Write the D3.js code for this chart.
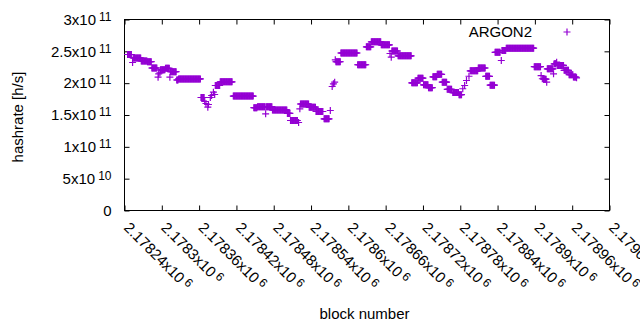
<!DOCTYPE html>
<html>
<head>
<meta charset="utf-8">
<script src="https://cdn.jsdelivr.net/npm/d3@7"></script>
<style>
  body { margin: 0; background: #fff; }
  svg { display: block; font-family: "Liberation Sans", Arial, sans-serif; }
</style>
</head>
<body>
<div id="chart"></div>
<script>
// hashrate per block, in units of 1e9 h/s
// runs of blocks with the same value (first block, last block, value)
const runFrom = [2178245, 2178254, 2178267, 2178277, 2178284, 2178298, 2178306, 2178314, 2178324, 2178327,
                 2178363, 2178386, 2178394, 2178415, 2178448, 2178454, 2178468, 2178478, 2178502, 2178507,
                 2178523, 2178537, 2178548, 2178561, 2178580, 2178588, 2178615, 2178629, 2178637, 2178653,
                 2178670, 2178680, 2178702, 2178712, 2178721, 2178729, 2178736, 2178743, 2178751, 2178759,
                 2178768, 2178778, 2178796, 2178809, 2178821, 2178828, 2178836, 2178847, 2178854, 2178899,
                 2178914, 2178920, 2178931, 2178936, 2178947, 2178955, 2178962];
const runTo   = [2178251, 2178266, 2178276, 2178283, 2178292, 2178305, 2178312, 2178323, 2178326, 2178362,
                 2178368, 2178393, 2178413, 2178447, 2178453, 2178466, 2178477, 2178501, 2178506, 2178518,
                 2178536, 2178547, 2178559, 2178569, 2178587, 2178614, 2178628, 2178636, 2178652, 2178666,
                 2178679, 2178701, 2178711, 2178720, 2178728, 2178735, 2178742, 2178750, 2178758, 2178766,
                 2178777, 2178782, 2178808, 2178820, 2178827, 2178835, 2178844, 2178853, 2178898, 2178909,
                 2178918, 2178929, 2178934, 2178946, 2178954, 2178961, 2178966];
const runHash = [245.0, 239.5, 234.8, 233.7, 223.8, 221.0, 223.4, 218.0, 205.0, 206.7,
                 177.5, 196.3, 202.1, 179.8, 161.5, 163.0, 163.0, 157.9, 152.4, 141.4,
                 167.3, 162.3, 155.5, 144.0, 233.6, 247.4, 228.9, 257.1, 265.0, 260.3,
                 250.5, 243.0, 200.6, 207.8, 197.4, 192.9, 210.0, 213.9, 201.5, 190.4,
                 185.3, 181.9, 219.4, 223.8, 210.8, 196.8, 248.5, 251.3, 254.9, 225.9,
                 206.2, 222.6, 230.4, 227.8, 220.2, 213.3, 209.7];

// single blocks in between
const oneBlock = [2178253, 2178294, 2178295, 2178297, 2178313, 2178369, 2178371, 2178374, 2178375, 2178378,
                  2178380, 2178383, 2178385, 2178467, 2178520, 2178522, 2178571, 2178574, 2178576, 2178578,
                  2178579, 2178667, 2178669, 2178784, 2178787, 2178790, 2178794, 2178846, 2178910, 2178912,
                  2178919, 2178930, 2178935, 2178967];
const oneHash  = [232.5, 209.4, 214.7, 216.3, 209.4, 171.2, 168.1, 162.3, 166.5, 177.5,
                  180.6, 185.8, 182.2, 151.9, 138.2, 159.7, 157.1, 194.8, 199.0, 201.5,
                  236.7, 246.6, 240.8, 191.2, 196.3, 204.2, 210.9, 235.6, 212.0, 206.9,
                  201.5, 214.7, 232.9, 208.4];

const xTicks = [2178240, 2178300, 2178360, 2178420, 2178480, 2178540, 2178600,
                2178660, 2178720, 2178780, 2178840, 2178900, 2178960, 2179020];
const xTickText = ["2.17824", "2.1783", "2.17836", "2.17842", "2.17848", "2.17854", "2.1786",
                   "2.17866", "2.17872", "2.17878", "2.17884", "2.1789", "2.17896", "2.17902"];
const xTickExp = ["6", "6", "6", "6", "6", "6", "6", "6", "6", "6", "6", "6", "6", "6"];

const yTicks = [0, 5e10, 1e11, 1.5e11, 2e11, 2.5e11, 3e11];
const yTickText = ["0", "5", "1", "1.5", "2", "2.5", "3"];
const yTickExp = ["", "10", "11", "11", "11", "11", "11"];

const seriesName = "ARGON2";

// --- Zeichenfläche ---
const W = 640, H = 330;
const plotLeft = 124.5, plotRight = 609.5, plotTop = 19.5, plotBottom = 210.5;
const color = "#9400d3";
const fontSize = 15;

const svg = d3.select("#chart").append("svg")
    .attr("width", W)
    .attr("height", H);

svg.append("rect").attr("width", W).attr("height", H).attr("fill", "#fff");

const x = d3.scaleLinear().domain([2178240, 2179020]).range([plotLeft, plotRight]);
const y = d3.scaleLinear().domain([0, 3e11]).range([plotBottom, plotTop]);

// label with "x10" and a raised exponent, like gnuplot enhanced text
function powerLabel(sel, mant, exp) {
    sel.text(null);
    sel.append("tspan").text(exp ? mant + "x10" : mant);
    if (exp) {
        sel.append("tspan").attr("dx", 3).attr("dy", -4).attr("font-size", 12).text(exp);
    }
}

// y axis left
const gLeft = svg.append("g")
    .attr("transform", `translate(${plotLeft},0)`)
    .call(d3.axisLeft(y).tickValues(yTicks).tickSize(-5).tickSizeOuter(0).tickPadding(13));
gLeft.selectAll(".tick text").each(function (d, i) {
    powerLabel(d3.select(this), yTickText[i], yTickExp[i]);
});

// y axis right, ticks only
const gRight = svg.append("g")
    .attr("transform", `translate(${plotRight},0)`)
    .call(d3.axisRight(y).tickValues(yTicks).tickSize(-5).tickSizeOuter(0).tickFormat(""));

// x axis bottom, labels turned by 45 degrees
const gBottom = svg.append("g")
    .attr("transform", `translate(0,${plotBottom})`)
    .call(d3.axisBottom(x).tickValues(xTicks).tickSize(-5).tickSizeOuter(0));
gBottom.selectAll(".tick text")
    .attr("x", 0).attr("y", 0).attr("dy", 0)
    .attr("text-anchor", "start")
    .attr("transform", "translate(-2,18) rotate(45)")
    .each(function (d, i) {
        powerLabel(d3.select(this), xTickText[i], xTickExp[i]);
    });

// x axis top, ticks only
const gTop = svg.append("g")
    .attr("transform", `translate(0,${plotTop})`)
    .call(d3.axisTop(x).tickValues(xTicks).tickSize(-5).tickSizeOuter(0).tickFormat(""));

[gLeft, gRight, gBottom, gTop].forEach(g => {
    g.select(".domain").remove();
    g.attr("font-size", fontSize).attr("font-family", null);
    g.selectAll(".tick text").attr("fill", "#000");
    g.selectAll(".tick line").attr("stroke", "#000");
});

// border
svg.append("rect")
    .attr("x", plotLeft).attr("y", plotTop)
    .attr("width", plotRight - plotLeft).attr("height", plotBottom - plotTop)
    .attr("fill", "none").attr("stroke", "#000").attr("stroke-width", 1);

// axis titles
svg.append("text")
    .attr("transform", `translate(23,117) rotate(-90)`)
    .attr("text-anchor", "middle")
    .attr("font-size", fontSize)
    .text("hashrate [h/s]");

svg.append("text")
    .attr("x", 364.5).attr("y", 319)
    .attr("text-anchor", "middle")
    .attr("font-size", fontSize)
    .text("block number");

// --- Punkte ---
const points = [];
runFrom.forEach((from, i) => {
    for (let b = from; b <= runTo[i]; b++) points.push({ block: b, hash: runHash[i] * 1e9 });
});
oneBlock.forEach((b, i) => points.push({ block: b, hash: oneHash[i] * 1e9 }));

const cross = (cx, cy) => `M${cx - 3.5},${cy}h7M${cx},${cy - 3.5}v7`;

svg.append("g")
    .selectAll("path")
    .data(points)
    .enter()
    .append("path")
    .attr("d", d => cross(x(d.block), y(d.hash)))
    .attr("fill", "none")
    .attr("stroke", color)
    .attr("stroke-width", 1.2);

// legend
svg.append("text")
    .attr("x", 532).attr("y", 37)
    .attr("text-anchor", "end")
    .attr("font-size", fontSize)
    .text(seriesName);
svg.append("path")
    .attr("d", cross(567, 32))
    .attr("fill", "none")
    .attr("stroke", color)
    .attr("stroke-width", 1.2);
</script>
</body>
</html>
